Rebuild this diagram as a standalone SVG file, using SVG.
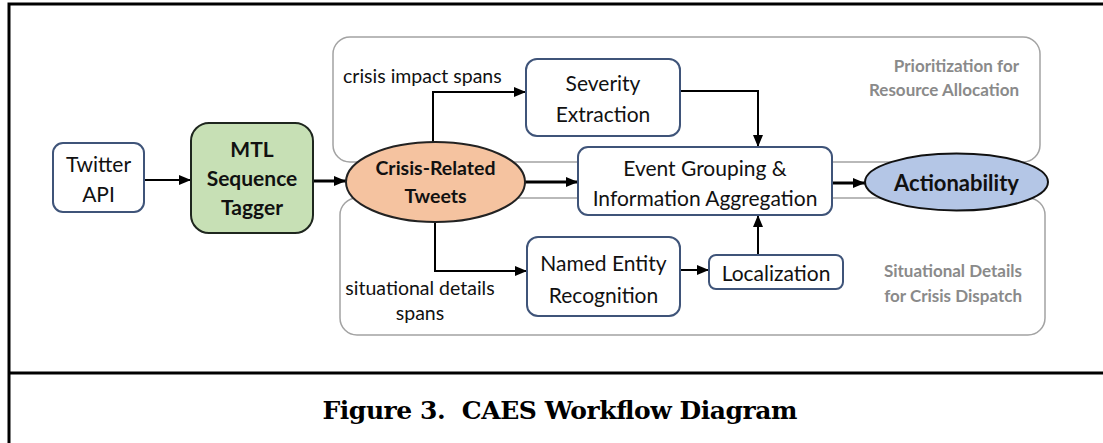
<svg xmlns="http://www.w3.org/2000/svg" width="1103" height="443" viewBox="0 0 1103 443">
<style>
.frame{stroke:#000;stroke-width:3;fill:none}
.panel{fill:#fff;stroke:#a3a3a3;stroke-width:1.5}
.box{fill:#fff;stroke:#3f5479;stroke-width:2}
.t{font-family:Lato,"Open Sans","Liberation Sans",sans-serif;font-size:21px;fill:#111;text-anchor:middle;dominant-baseline:central}
.b{font-weight:bold}
.lbl{font-family:Lato,"Open Sans","Liberation Sans",sans-serif;font-size:19.5px;fill:#111;dominant-baseline:central}
.gray{font-family:Lato,"Open Sans","Liberation Sans",sans-serif;font-size:17px;font-weight:bold;fill:#8a8a8a;text-anchor:end;dominant-baseline:central}
.c{fill:none;stroke:#000;stroke-width:2}
.ck{fill:none;stroke:#000;stroke-width:3}
.cap{font-family:"DejaVu Serif","Liberation Serif",serif;font-weight:bold;font-size:25px;fill:#000;text-anchor:middle}
</style>
<defs>
<marker id="ah" markerUnits="userSpaceOnUse" markerWidth="12" markerHeight="10" refX="12" refY="5" orient="auto">
<path d="M0,0 L12,5 L0,10 z" fill="#000"/>
</marker>
</defs>
<rect width="1103" height="443" fill="#fff"/>
<g id="frame">
<path class="frame" d="M9,443 V4 H1103"/>
<path class="frame" d="M9,373 H1103"/>
</g>
<g id="panel-priority">
<rect class="panel" x="333" y="37" width="707" height="125" rx="17"/>
<text class="gray" x="1019" y="65">Prioritization for</text>
<text class="gray" x="1019" y="89">Resource Allocation</text>
</g>
<g id="panel-situational">
<rect class="panel" x="340" y="198" width="705" height="137" rx="17"/>
<text class="gray" x="1022" y="270">Situational Details</text>
<text class="gray" x="1022" y="295">for Crisis Dispatch</text>
</g>
<g id="connectors">
<path class="c" d="M144,180 H191" marker-end="url(#ah)"/>
<path class="ck" d="M313,181 H346" marker-end="url(#ah)"/>
<path class="ck" d="M525,182 H578" marker-end="url(#ah)"/>
<path class="c" d="M433,143 V92 H526" marker-end="url(#ah)"/>
<path class="c" d="M680,91 H758 V147" marker-end="url(#ah)"/>
<path class="c" d="M435,221 V271 H527" marker-end="url(#ah)"/>
<path class="c" d="M680,270 H709" marker-end="url(#ah)"/>
<path class="c" d="M758,255 V215" marker-end="url(#ah)"/>
<path class="ck" d="M832,183 H865" marker-end="url(#ah)"/>
<text class="lbl" x="343" y="75">crisis impact spans</text>
<text class="lbl" x="420" y="287" text-anchor="middle">situational details</text>
<text class="lbl" x="420" y="312" text-anchor="middle">spans</text>
</g>
<g id="twitter">
<rect class="box" x="53" y="143" width="91" height="69" rx="10"/>
<text class="t" x="98.5" y="163">Twitter</text>
<text class="t" x="98.5" y="193">API</text>
</g>
<g id="mtl">
<rect x="191" y="123" width="122" height="110" rx="18" fill="#c7e0b5" stroke="#1e261e" stroke-width="2"/>
<text class="t b" x="252" y="148">MTL</text>
<text class="t b" x="252" y="177">Sequence</text>
<text class="t b" x="252" y="206">Tagger</text>
</g>
<g id="crisis">
<ellipse cx="435.5" cy="182" rx="89.5" ry="40" fill="#f5c3a0" stroke="#222" stroke-width="2"/>
<text class="t b" x="435.5" y="167" style="font-size:19.5px">Crisis-Related</text>
<text class="t b" x="435.5" y="195" style="font-size:19.5px">Tweets</text>
</g>
<g id="severity">
<rect class="box" x="526" y="59" width="154" height="77" rx="11"/>
<text class="t" x="603" y="82">Severity</text>
<text class="t" x="603" y="113">Extraction</text>
</g>
<g id="event">
<rect class="box" x="578" y="147" width="254" height="68" rx="10"/>
<text class="t" x="705" y="167">Event Grouping &amp;</text>
<text class="t" x="705" y="197">Information Aggregation</text>
</g>
<g id="ner">
<rect class="box" x="527" y="237" width="153" height="79" rx="11"/>
<text class="t" x="603.5" y="262">Named Entity</text>
<text class="t" x="603.5" y="294">Recognition</text>
</g>
<g id="localization">
<rect class="box" x="709" y="255" width="134" height="34" rx="7"/>
<text class="t" x="776" y="272">Localization</text>
</g>
<g id="actionability">
<ellipse cx="956.5" cy="182" rx="91.5" ry="28.5" fill="#b4c6e6" stroke="#111" stroke-width="2"/>
<text class="t b" x="956.5" y="182" style="font-size:22px">Actionability</text>
</g>
<g id="caption">
<text class="cap" x="560" y="419" xml:space="preserve" textLength="475" lengthAdjust="spacing">Figure 3.  CAES Workflow Diagram</text>
</g>
</svg>
